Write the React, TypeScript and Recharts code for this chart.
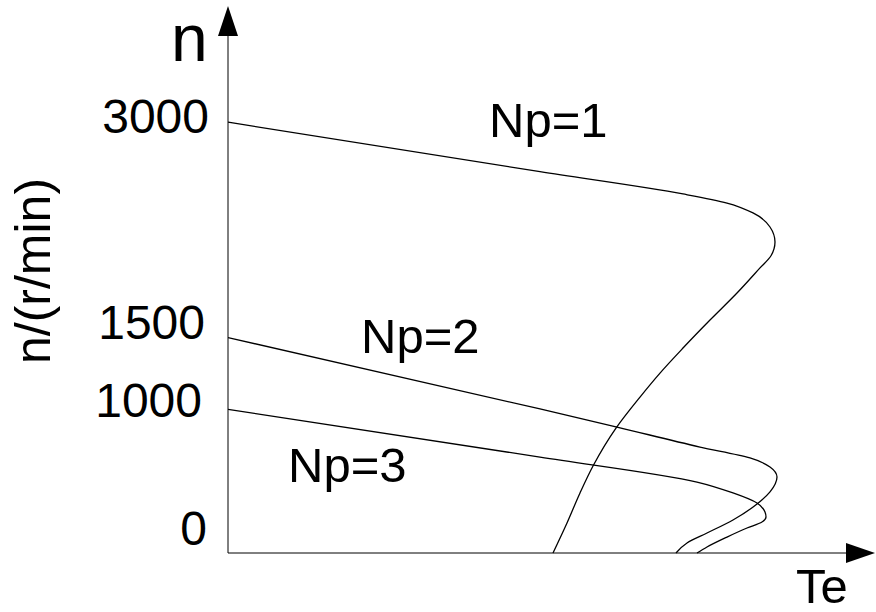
import { LineChart, Line, XAxis, YAxis, ReferenceDot } from 'recharts'

// torque Te (10 px per unit) against speed n (r/min), one curve per pole-pair count
const np1Te = [0, 31.2, 45.5, 49.9, 52.5, 54.2, 54.7, 54.3, 53.2, 50.9, 48.2, 45.5, 43.2, 41.2, 38.8, 36.5, 35.2, 33.9, 32.5]
const np1N = [3000, 2655, 2500, 2437, 2368, 2270, 2166, 2070, 1985, 1810, 1622, 1427, 1253, 1086, 870, 606, 418, 209, 0]

const np2Te = [0, 31.2, 38.9, 47.2, 52.2, 54.2, 54.9, 54.2, 52.9, 50.5, 47.9, 45.9, 44.8]
const np2N = [1500, 1003, 877, 738, 662, 599, 529, 425, 341, 230, 139, 70, 0]

const np3Te = [0, 31.2, 46.9, 50.5, 52.9, 53.7, 53.8, 53.4, 51.9, 49.9, 47.9, 46.9]
const np3N = [1000, 668, 494, 418, 348, 285, 251, 216, 174, 111, 42, 0]

const speedTicks = [0, 1000, 1500, 3000]
const curveLabels = ['Np=1', 'Np=2', 'Np=3']

const W = 876
const H = 612
const FONT = '"Liberation Sans", Arial, sans-serif'

const toRows = (te: number[], n: number[]) => te.map((t, i) => ({ te: t, n: n[i] }))

// hand-placed nudges for the speed labels
const tickNudge: Record<number, { dx: number; dy: number }> = {
  3000: { dx: 0, dy: 11 },
  1500: { dx: -4, dy: 1 },
  1000: { dx: -7, dy: 8 },
  0: { dx: -2, dy: -8 },
}

const SpeedTick = ({ x, y, payload }: any) => {
  const nudge = tickNudge[payload.value] ?? { dx: 0, dy: 0 }
  return (
    <text
      x={x + nudge.dx}
      y={y + nudge.dy}
      textAnchor="end"
      fontFamily={FONT}
      fontSize={48}
      fill="#000"
    >
      {payload.value}
    </text>
  )
}

const UpArrow = ({ cx, cy }: any) => (
  <polygon points={`${cx},${cy - 30} ${cx - 10},${cy} ${cx + 10},${cy}`} fill="#000" />
)

const RightArrow = ({ cx, cy }: any) => (
  <polygon points={`${cx + 29},${cy} ${cx},${cy - 10} ${cx},${cy + 10}`} fill="#000" />
)

const labelSpots = [
  { x: 489, y: 137 },
  { x: 361, y: 353 },
  { x: 288, y: 482 },
]

export default function App() {
  const series = [toRows(np1Te, np1N), toRows(np2Te, np2N), toRows(np3Te, np3N)]

  return (
    <div style={{ position: 'absolute', left: 0, top: 0, width: W, height: H, background: '#fff' }}>
      <LineChart width={W} height={H} margin={{ top: 36, right: 30, bottom: 58, left: 128 }}>
        <XAxis
          type="number"
          dataKey="te"
          domain={[0, 61.8]}
          allowDataOverflow
          tick={false}
          tickLine={false}
          height={1}
          axisLine={{ stroke: '#000', strokeWidth: 1 }}
        />
        <YAxis
          type="number"
          dataKey="n"
          domain={[0, 3600]}
          ticks={speedTicks}
          interval={0}
          width={100}
          tickLine={false}
          tickMargin={13}
          tick={<SpeedTick />}
          axisLine={{ stroke: '#000', strokeWidth: 1 }}
        />
        {series.map((rows, i) => (
          <Line
            key={curveLabels[i]}
            data={rows}
            dataKey="n"
            type="monotoneY"
            stroke="#000"
            strokeWidth={1.3}
            dot={false}
            activeDot={false}
            isAnimationActive={false}
          />
        ))}
        <ReferenceDot x={0} y={3600} ifOverflow="visible" shape={<UpArrow />} />
        <ReferenceDot x={61.8} y={0} ifOverflow="visible" shape={<RightArrow />} />
      </LineChart>

      <svg
        width={W}
        height={H}
        style={{ position: 'absolute', left: 0, top: 0, pointerEvents: 'none' }}
        fontFamily={FONT}
        fill="#000"
      >
        <text x={171} y={61} fontSize={66}>n</text>
        <text x={796} y={603} fontSize={49}>Te</text>
        <text x={50} y={271} fontSize={50} textAnchor="middle" transform="rotate(-90 50 271)">
          n/(r/min)
        </text>
        {curveLabels.map((label, i) => (
          <text key={label} x={labelSpots[i].x} y={labelSpots[i].y} fontSize={49}>
            {label}
          </text>
        ))}
      </svg>
    </div>
  )
}
